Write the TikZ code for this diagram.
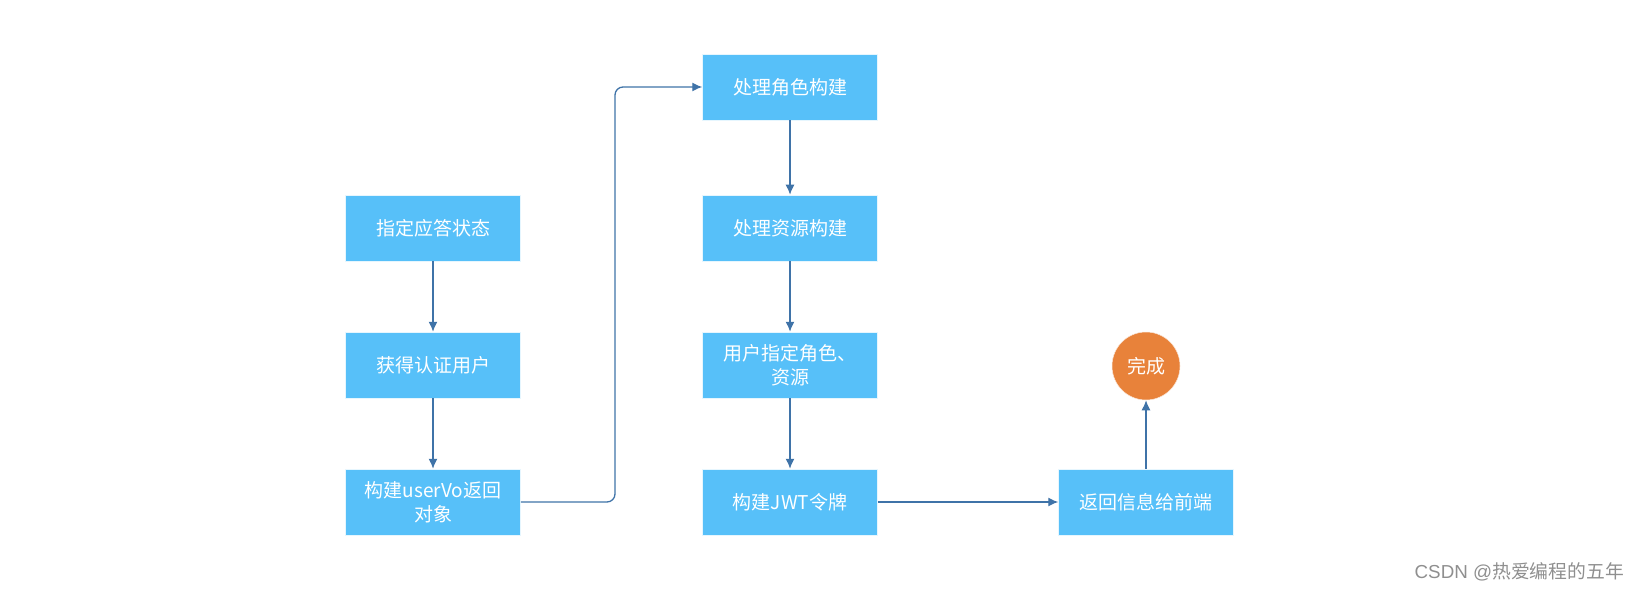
\documentclass[tikz,border=0pt]{standalone}
\usepackage{fontspec}
\newfontfamily\cjk{Noto Sans CJK SC}
\newfontfamily\arialf{Liberation Sans}
\usetikzlibrary{arrows.meta}
\definecolor{boxblue}{HTML}{57C0F9}
\definecolor{linkblue}{HTML}{3F73A8}
\definecolor{doneorange}{HTML}{E8823A}
\definecolor{wmgray}{HTML}{8F8F8F}
\begin{document}
\begin{tikzpicture}[x=1bp,y=-1bp,
  stepbox/.style={rectangle, fill=boxblue, draw=white!85!boxblue, line width=0.5bp,
    minimum width=175bp, minimum height=66bp, inner sep=0pt, text=white,
    font=\cjk\fontsize{19bp}{24bp}\selectfont, align=center, text width=150bp},
  link/.style={draw=linkblue, line width=1.3bp, -{Latex[length=10bp,width=9bp]}, rounded corners=8bp},
  donecirc/.style={circle, fill=doneorange, draw=white!80!doneorange, line width=0.5bp,
    minimum size=68bp, inner sep=0pt, text=white, font=\cjk\fontsize{19bp}{24bp}\selectfont}]
\useasboundingbox (0,0) rectangle (1640,600);
\node[stepbox] (a1) at (433,228) {指定应答状态};
\node[stepbox] (a2) at (433,365) {获得认证用户};
\node[stepbox] (a3) at (433,502) {构建userVo返回\\对象};
\node[stepbox] (b1) at (790,87) {处理角色构建};
\node[stepbox] (b2) at (790,228) {处理资源构建};
\node[stepbox] (b3) at (790,365) {用户指定角色、\\资源};
\node[stepbox] (b4) at (790,502) {构建JWT令牌};
\node[stepbox] (c1) at (1146,502) {返回信息给前端};
\node[donecirc] (done) at (1146,366) {完成};
\node[anchor=east, text=wmgray, inner sep=0pt] (wm) at (1624,572)
  {\arialf\fontsize{18.8bp}{22bp}\selectfont CSDN @\cjk 热爱编程的五年};
\draw[link] (a1) -- (a2);
\draw[link] (a2) -- (a3);
\draw[link] (a3.east) -- (615,502) -- (615,87) -- (b1.west);
\draw[link] (b1) -- (b2);
\draw[link] (b2) -- (b3);
\draw[link] (b3) -- (b4);
\draw[link] (b4) -- (c1);
\draw[link] (c1) -- (done);
\end{tikzpicture}
\end{document}
